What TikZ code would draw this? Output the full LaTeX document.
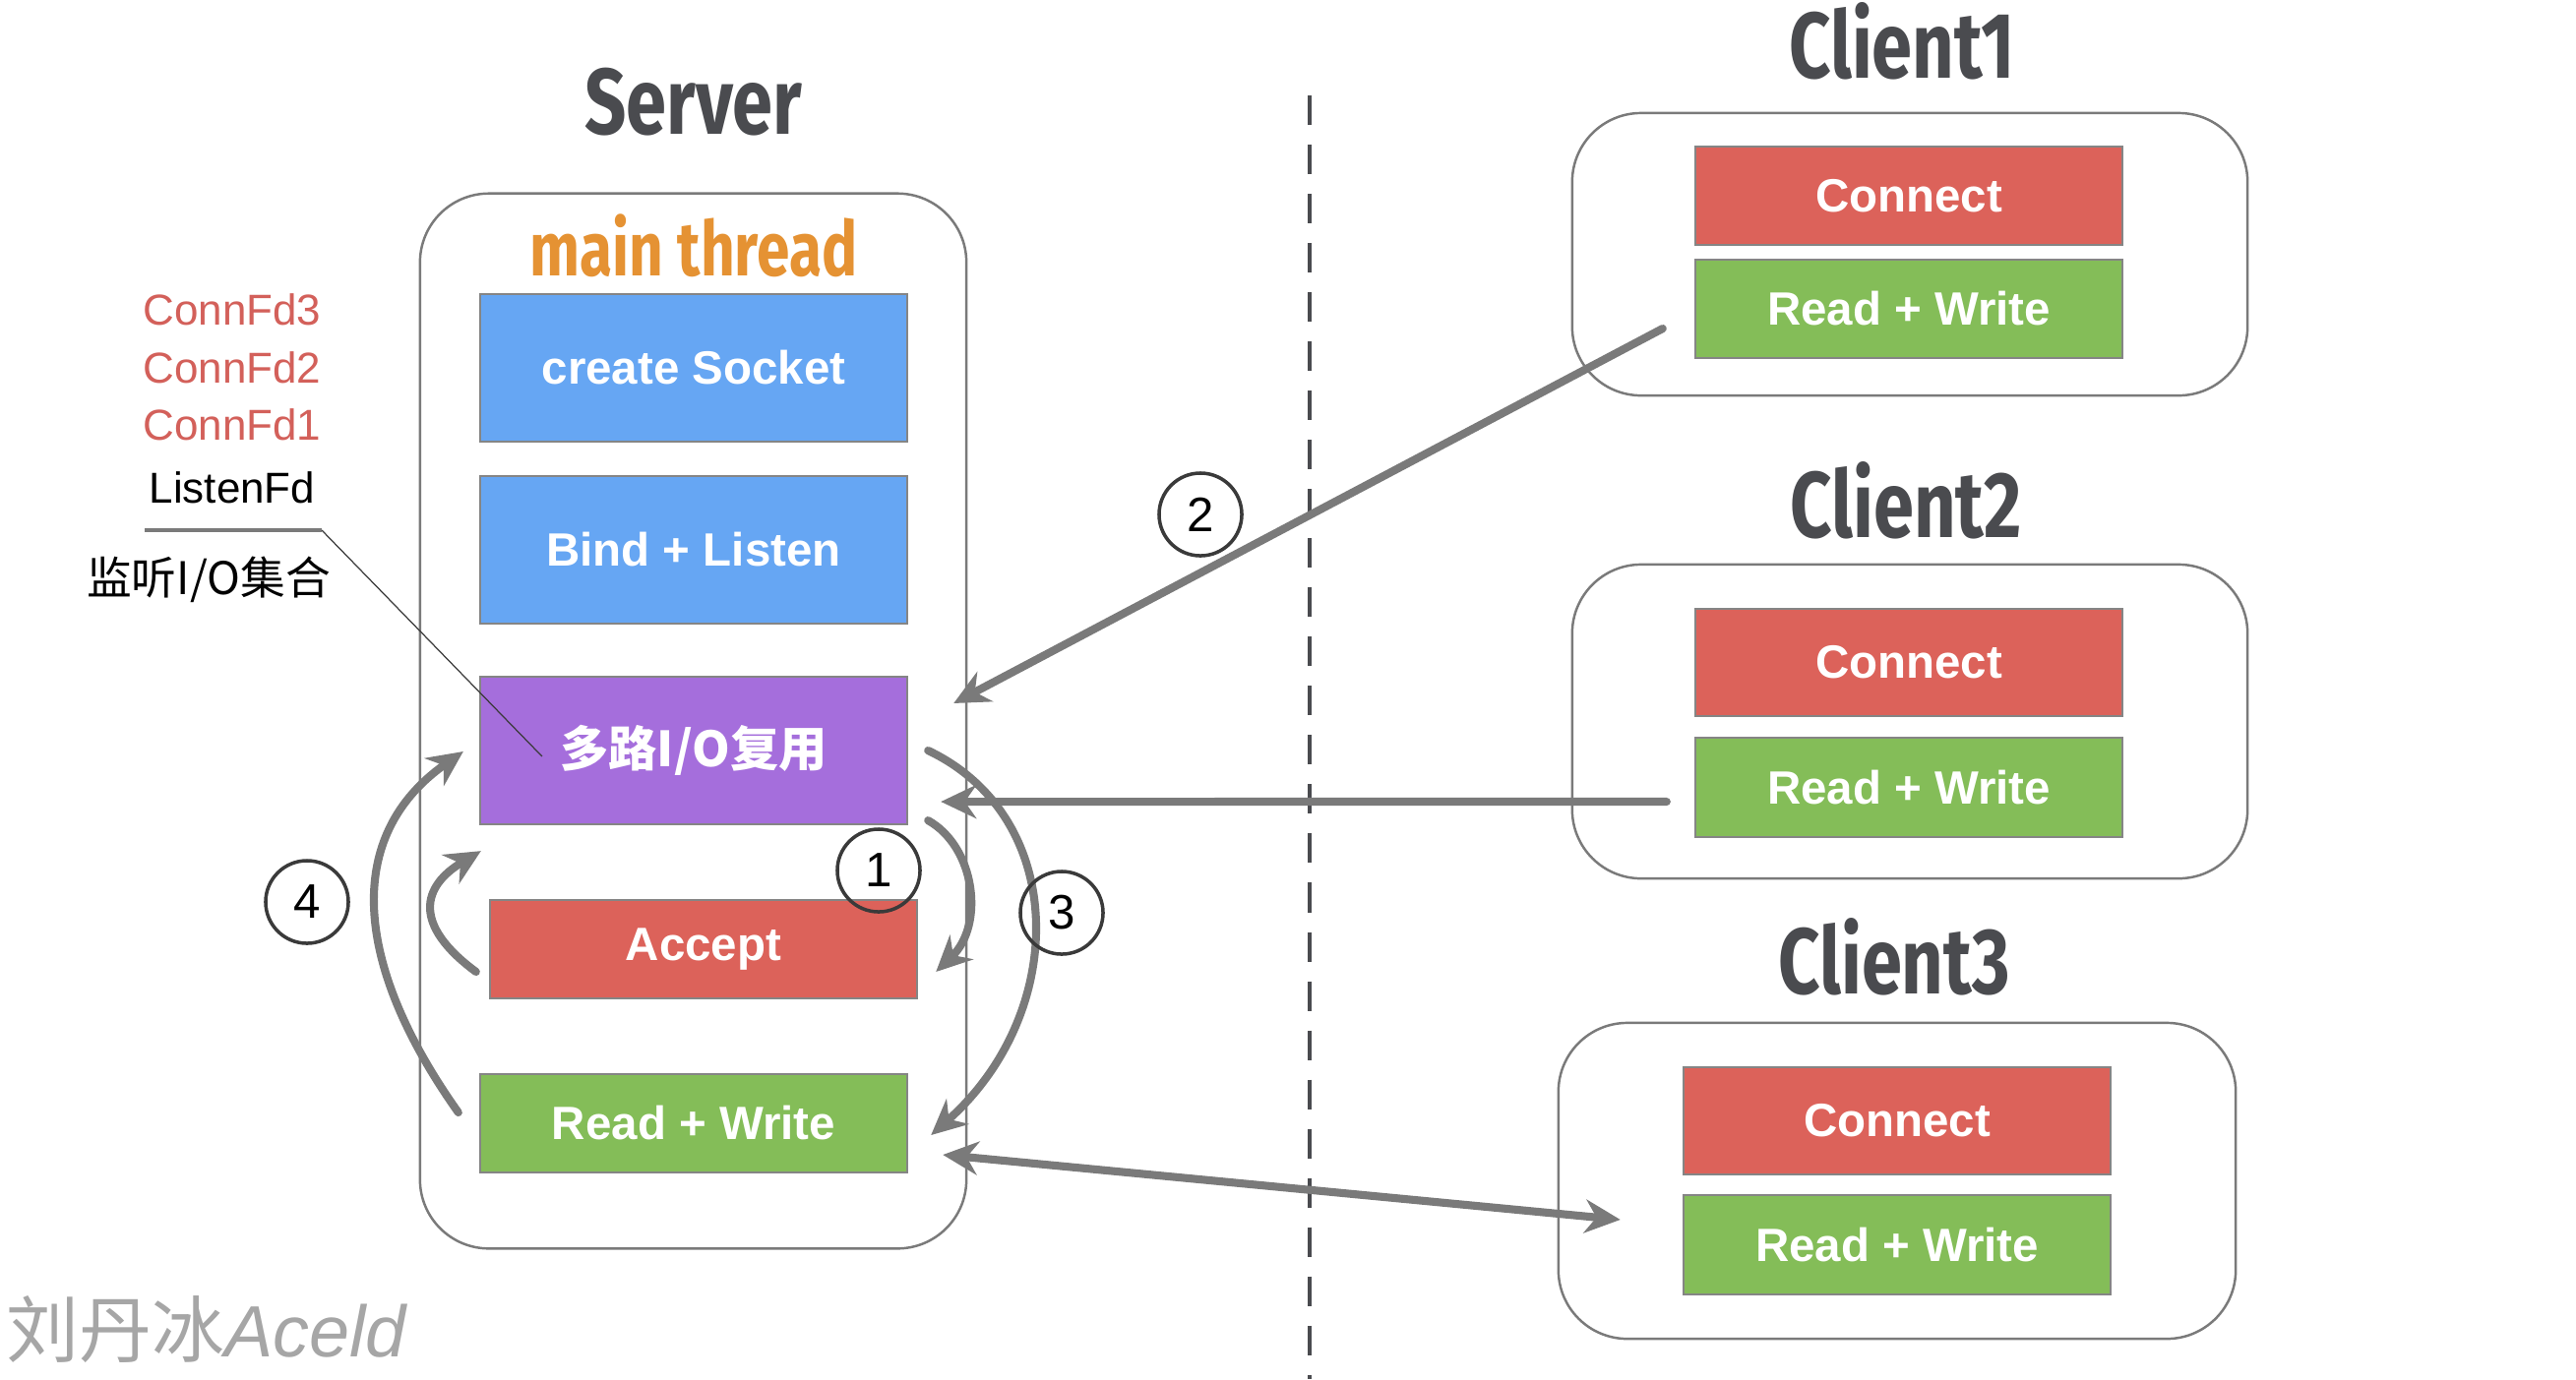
\documentclass[tikz,border=0pt]{standalone}
\usepackage{fontspec}
\setmainfont{Liberation Sans}
\newfontfamily\cjkfont{Noto Sans CJK SC}
\newfontfamily\titlefont[FakeStretch=0.78]{Fira Sans}
\usepackage{xcolor}
\usetikzlibrary{arrows.meta,positioning}
\definecolor{SockBlue}{HTML}{66A6F3}
\definecolor{MuxPurple}{HTML}{A56EDC}
\definecolor{ConnRed}{HTML}{DC625A}
\definecolor{RwGreen}{HTML}{84BD58}
\definecolor{BoxLine}{HTML}{858585}
\definecolor{GroupLine}{HTML}{7A7A7A}
\definecolor{TitleGray}{HTML}{4A4B4F}
\definecolor{ThreadOrange}{HTML}{E59233}
\definecolor{FdRed}{HTML}{D3605A}
\definecolor{ArrowGray}{HTML}{7A7A7A}
\definecolor{NumLine}{HTML}{3A3A3A}
\tikzset{
  >=Stealth,
  stepbox/.style={draw=BoxLine,line width=0.6pt,minimum width=4.34cm,text=white,
    font=\fontsize{13.5}{16}\selectfont\bfseries},
  sockbox/.style={stepbox,fill=SockBlue,minimum height=1.5cm},
  muxbox/.style={stepbox,fill=MuxPurple,minimum height=1.5cm,
    font=\cjkfont\bfseries\fontsize{14}{16}\selectfont},
  connbox/.style={stepbox,fill=ConnRed,minimum height=1cm},
  rwbox/.style={stepbox,fill=RwGreen,minimum height=1cm},
  groupbox/.style={draw=GroupLine,line width=0.7pt,rounded corners=0.7cm},
  titletext/.style={font=\titlefont\bfseries\fontsize{27}{30}\selectfont,text=TitleGray},
  threadtext/.style={font=\titlefont\bfseries\fontsize{22}{26}\selectfont,text=ThreadOrange},
  fdlabel/.style={font=\fontsize{12.5}{15}\selectfont,text=FdRed},
  flow/.style={line width=2.3pt,draw=ArrowGray,line cap=round,
    -{Stealth[length=3.6mm,width=3.4mm]}},
  numcircle/.style={circle,draw=NumLine,line width=1pt,minimum size=0.84cm,
    inner sep=0pt,font=\fontsize{14}{16}\selectfont},
  divider/.style={draw=TitleGray,line width=1.4pt,dash pattern=on 0.3cm off 0.2cm}
}
\begin{document}
\begin{tikzpicture}[x=0.01cm,y=-0.01cm]
  \useasboundingbox[fill=white] (0,0) rectangle (2618,1402);

  % server side
  \node[titletext] (server) at (705,104) {Server};
  \node[groupbox,minimum width=5.55cm,minimum height=10.72cm] (srvgroup) at (704.5,733) {};
  \node[threadtext] (thread) at (705,250) {main thread};
  \node[sockbox] (sock) at (705,374) {create Socket};
  \node[sockbox] (bind) at (705,559) {Bind + Listen};
  \node[muxbox] (mux) at (705,763) {多路I/O复用};
  \node[connbox] (accept) at (715,965) {Accept};
  \node[rwbox] (srvrw) at (705,1142) {Read + Write};

  % fd set
  \node[fdlabel] (fd3) at (236,315) {ConnFd3};
  \node[fdlabel] (fd2) at (236,374) {ConnFd2};
  \node[fdlabel] (fd1) at (236,432) {ConnFd1};
  \node[fdlabel,text=black] (listenfd) at (236,496) {ListenFd};
  \coordinate (setl) at (147,539);
  \coordinate (setr) at (327,539);
  \draw[draw=GroupLine,line width=1.3pt] (setl) -- (setr);
  \node[font=\cjkfont\fontsize{13}{15}\selectfont] (fdset) at (212,589) {监听I/O集合};
  \draw[draw=NumLine,line width=0.35pt] (setr) -- ([xshift=-1.54cm,yshift=-0.06cm]mux.center);

  \draw[divider] (1331,97) -- (1331,1402);

  % clients
  \node[titletext] (client1) at (1933,42) {Client1};
  \node[groupbox,minimum width=6.86cm,minimum height=2.87cm] (c1group) at (1941,258.5) {};
  \node[connbox] (c1conn) at (1940,199) {Connect};
  \node[rwbox] (c1rw) at (1940,314) {Read + Write};

  \node[titletext] (client2) at (1937,509) {Client2};
  \node[groupbox,minimum width=6.86cm,minimum height=3.19cm] (c2group) at (1941,733.5) {};
  \node[connbox,minimum height=1.09cm] (c2conn) at (1940,673.5) {Connect};
  \node[rwbox,minimum height=1.01cm] (c2rw) at (1940,800.5) {Read + Write};

  \node[titletext] (client3) at (1925,973) {Client3};
  \node[groupbox,minimum width=6.88cm,minimum height=3.21cm] (c3group) at (1928,1200.5) {};
  \node[connbox,minimum height=1.09cm] (c3conn) at (1928,1139.5) {Connect};
  \node[rwbox,minimum height=1.01cm] (c3rw) at (1928,1265.5) {Read + Write};

  % event flow
  \draw[flow] ([xshift=-0.32cm,yshift=-0.2cm]c1rw.west) -- ([xshift=0.46cm,yshift=0.48cm]mux.east);
  \draw[flow] ([xshift=-0.28cm,yshift=-0.145cm]c2rw.west) -- ([xshift=0.33cm,yshift=-0.52cm]mux.east);
  \draw[flow,{Stealth[length=3.6mm,width=3.4mm]}-{Stealth[length=3.6mm,width=3.4mm]}]
    ([xshift=0.35cm,yshift=-0.32cm]srvrw.east) -- ([xshift=-0.63cm,yshift=0.255cm]c3rw.west);
  \draw[flow] ([xshift=0.2cm,yshift=0.05cm]mux.south east)
    .. controls +(48,27) and +(50,-48) .. ([xshift=0.18cm,yshift=-0.23cm]accept.east);
  \draw[flow] ([xshift=0.2cm]mux.east)
    .. controls +(143,68) and +(140,-124) .. ([xshift=0.23cm,yshift=-0.12cm]srvrw.east);
  \draw[flow] ([xshift=-0.13cm,yshift=-0.23cm]accept.west)
    .. controls +(-65,-48) and +(-60,36) .. ([xshift=0.02cm,yshift=-0.26cm]mux.south west);
  \draw[flow] ([xshift=-0.21cm,yshift=0.11cm]srvrw.west)
    .. controls +(-107,-151) and +(-122,86) .. ([xshift=-0.16cm,yshift=-0.01cm]mux.west);

  \node[numcircle] (n1) at (893,885) {1};
  \node[numcircle] (n2) at (1220,523) {2};
  \node[numcircle] (n3) at (1079,928) {3};
  \node[numcircle] (n4) at (312,917) {4};

  \node[anchor=west,inner sep=0pt,text=black!35,font=\fontsize{21}{25}\selectfont] (mark) at (6,1352)
    {{\cjkfont 刘丹冰}\itshape Aceld};
\end{tikzpicture}
\end{document}
